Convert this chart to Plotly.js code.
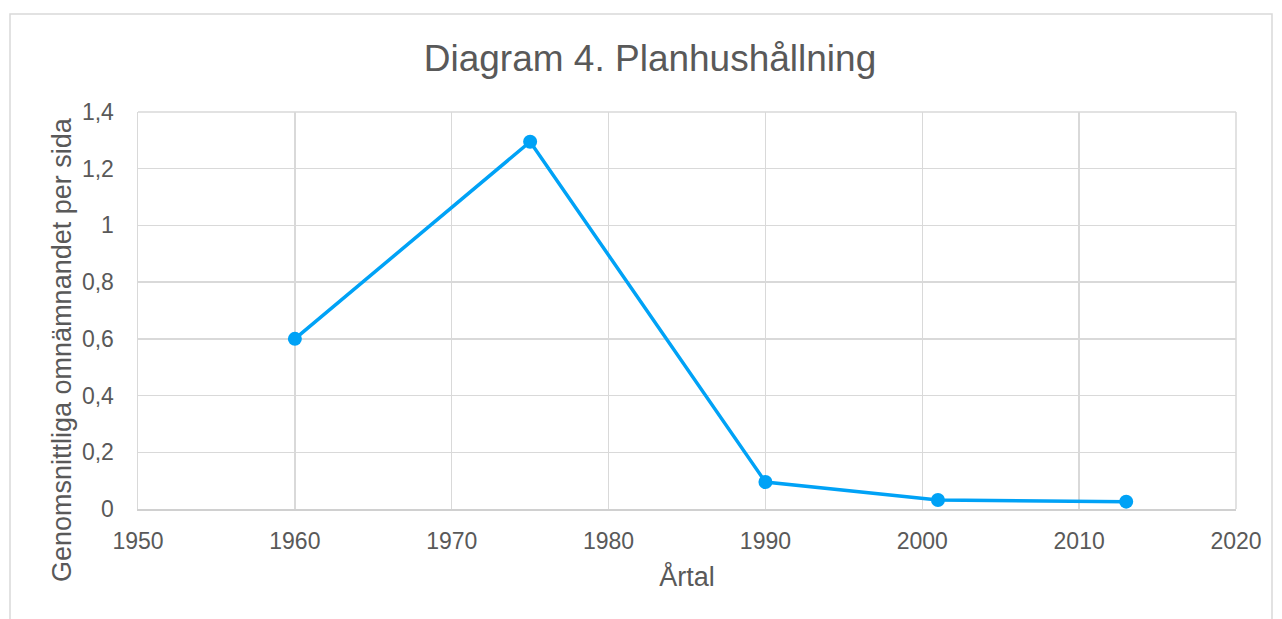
<!DOCTYPE html>
<html>
<head>
<meta charset="utf-8">
<script src="https://cdn.plot.ly/plotly-3.0.1.min.js"></script>
<style>
html,body{margin:0;padding:0;background:#fff;}
#chart{width:1282px;height:619px;}
</style>
</head>
<body>
<div id="chart"></div>
<script>
var years = [1960, 1975, 1990, 2001, 2013];
var values = [0.6, 1.295, 0.095, 0.032, 0.026];
var chartTitle = "Diagram 4. Planhushållning";
var xTitle = "Årtal";
var yTitle = "Genomsnittliga omnämnandet per sida";

var L = 138, R = 1236, T = 112, B = 509;
var W = R - L, H = B - T;
function px(x){ return (x - L) / W; }
function py(y){ return (B - y) / H; }

var trace = {
  x: years, y: values, type: 'scatter', mode: 'lines+markers',
  line: {color: '#00a2f6', width: 3.5},
  marker: {color: '#00a2f6', size: 14},
  hoverinfo: 'x+y'
};

var layout = {
  width: 1282, height: 619,
  margin: {l: L, r: 1282 - R, t: T, b: 619 - B, pad: 0},
  paper_bgcolor: '#fff', plot_bgcolor: '#fff',
  separators: ', ',
  font: {family: 'Liberation Sans, Arial, sans-serif', color: '#595959'},
  showlegend: false,
  title: {text: chartTitle, font: {size: 37, color: '#595959'}, xref: 'container', x: 650/1282, xanchor: 'center', y: 1 - 58/619, yanchor: 'middle'},
  xaxis: {
    range: [1950, 2020], dtick: 10, tick0: 1950,
    showgrid: true, gridcolor: '#d9d9d9', gridwidth: 1.5,
    zeroline: false, showline: true, linecolor: '#d0d0d0', linewidth: 1.5, mirror: false,
    ticks: '', ticklabelstandoff: 11,
    tickfont: {size: 23, color: '#595959'},
    title: {text: xTitle, font: {size: 27, color: '#595959'}, standoff: 14}
  },
  yaxis: {
    range: [0, 1.4], dtick: 0.2, tick0: 0,
    showgrid: true, gridcolor: '#d9d9d9', gridwidth: 1.5,
    zeroline: false, showline: true, linecolor: '#d9d9d9', linewidth: 1.5,
    ticks: '', ticklabelstandoff: 18,
    tickfont: {size: 23, color: '#595959'}
  },
  annotations: [
    {text: yTitle, xref: 'paper', yref: 'paper', x: px(62), y: py(350),
     xanchor: 'center', yanchor: 'middle', textangle: -90, showarrow: false,
     font: {size: 27, color: '#595959'}}
  ],
  shapes: [
    {type: 'rect', xref: 'paper', yref: 'paper',
     x0: px(10), x1: px(1272), y0: py(640), y1: py(14),
     line: {color: '#d9d9d9', width: 1.5}, fillcolor: 'rgba(0,0,0,0)', layer: 'below'},
    {type: 'line', xref: 'paper', yref: 'paper',
     x0: 1, x1: 1, y0: 0, y1: 1, line: {color: '#d9d9d9', width: 1.5}},
    {type: 'line', xref: 'paper', yref: 'paper',
     x0: 0, x1: 1, y0: 1, y1: 1, line: {color: '#d9d9d9', width: 1.5}}
  ]
};

Plotly.newPlot('chart', [trace], layout, {displayModeBar: false, staticPlot: true});
</script>
</body>
</html>
